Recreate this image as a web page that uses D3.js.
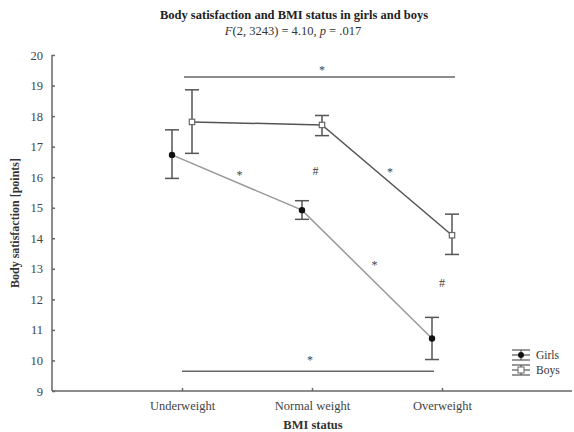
<!DOCTYPE html>
<html>
<head>
<meta charset="utf-8">
<script src="https://cdnjs.cloudflare.com/ajax/libs/d3/7.8.5/d3.min.js"></script>
<style>
  body { margin: 0; background: #fff; }
  text { font-family: "Liberation Serif", "DejaVu Serif", serif; }
</style>
</head>
<body>
<div id="chart"></div>
<script>
// chart data
const categories = ["Underweight", "Normal weight", "Overweight"];
const yTicks = [9, 10, 11, 12, 13, 14, 15, 16, 17, 18, 19, 20];
const girlsMean = [16.73, 14.92, 10.72];
const girlsUpper = [17.55, 15.23, 11.41];
const girlsLower = [15.96, 14.62, 10.03];
const boysMean = [17.81, 17.71, 14.1];
const boysUpper = [18.86, 18.02, 14.79];
const boysLower = [16.78, 17.36, 13.47];
// significance marks: [between category a, category b, value, symbol]
const marks = [
  ["Underweight", "Normal weight", 16.17, "*"],
  ["Normal weight", "Normal weight", 16.2, "#"],
  ["Normal weight", "Overweight", 16.27, "*"],
  ["Normal weight", "Overweight", 13.23, "*"],
  ["Overweight", "Overweight", 12.52, "#"]
];
const markShift = [-7.5, 3.5, 13, -2.5, 0];

const w = 574, h = 432;
const mLeft = 52, mRight = 572, mTop = 55, mBottom = 391;

const svg = d3.select("#chart").append("svg")
  .attr("width", w).attr("height", h);

const x = d3.scalePoint().domain(categories).range([mLeft, mRight]).padding(1);
const y = d3.scaleLinear().domain([9, 20]).range([mBottom, mTop]);
const dodge = 10;

// title
svg.append("text").attr("x", 294).attr("y", 19).attr("text-anchor", "middle")
  .style("font-size", "12.5px").style("font-weight", "bold").attr("fill", "#222")
  .text("Body satisfaction and BMI status in girls and boys");
const sub = svg.append("text").attr("x", 293).attr("y", 35).attr("text-anchor", "middle")
  .style("font-size", "12.5px").attr("fill", "#333");
sub.append("tspan").style("font-style", "italic").text("F");
sub.append("tspan").text("(2, 3243) = 4.10, ");
sub.append("tspan").style("font-style", "italic").text("p");
sub.append("tspan").text(" = .017");

// axes
const yAxis = d3.axisLeft(y).tickValues(yTicks).tickSize(-3).tickPadding(9);
const gy = svg.append("g").attr("transform", `translate(${mLeft},0)`).call(yAxis);
const xAxis = d3.axisBottom(x).tickSize(-3).tickPadding(10);
const gx = svg.append("g").attr("transform", `translate(0,${mBottom})`).call(xAxis);
gx.select(".domain").attr("d", `M${mLeft},0H${mRight}`);
gy.select(".domain").attr("d", `M0,${mBottom}V${mTop}`);
[gx, gy].forEach(g => {
  g.selectAll(".domain, line").attr("stroke", "#666").attr("stroke-width", 1.5);
  g.selectAll("text").attr("fill", "#444").style("font-size", "12.5px")
    .style("font-family", "'Liberation Serif', serif");
});

svg.append("text").attr("transform", `translate(19,${(mTop + mBottom) / 2}) rotate(-90)`)
  .attr("text-anchor", "middle").style("font-size", "12px").style("font-weight", "bold")
  .attr("fill", "#333").text("Body satisfaction [points]");
svg.append("text").attr("x", 313).attr("y", 429).attr("text-anchor", "middle")
  .style("font-size", "12.5px").style("font-weight", "bold").attr("fill", "#333")
  .text("BMI status");

// significance brackets
svg.append("line").attr("x1", x("Underweight") + 2).attr("x2", x("Overweight") + dodge + 3)
  .attr("y1", y(19.28)).attr("y2", y(19.28)).attr("stroke", "#666").attr("stroke-width", 1.5);
svg.append("text").attr("x", (x("Underweight") + x("Overweight")) / 2 + 10).attr("y", y(19.28) - 3)
  .attr("text-anchor", "middle").style("font-size", "12px").attr("fill", "#444").text("*");
svg.append("line").attr("x1", x("Underweight")).attr("x2", x("Overweight") - 8)
  .attr("y1", y(9.65)).attr("y2", y(9.65)).attr("stroke", "#666").attr("stroke-width", 1.5);
svg.append("text").attr("x", (x("Underweight") + x("Overweight")) / 2 - 2).attr("y", y(9.65) - 7)
  .attr("text-anchor", "middle").style("font-size", "12px").attr("fill", "#444").text("*");

svg.selectAll("text.mark").data(marks).enter().append("text").attr("class", "mark")
  .attr("x", (d, i) => (x(d[0]) + x(d[1])) / 2 + markShift[i])
  .attr("y", d => y(d[2]) + (d[3] === "*" ? 7 : 4))
  .attr("text-anchor", "middle").style("font-size", "12px").attr("fill", "#444")
  .text(d => d[3]);

// series
const series = [
  { name: "Girls", mean: girlsMean, up: girlsUpper, lo: girlsLower, off: -dodge, line: "#999", fill: "#111", shape: "circle" },
  { name: "Boys", mean: boysMean, up: boysUpper, lo: boysLower, off: dodge, line: "#555", fill: "#fff", shape: "square" }
];

series.forEach(s => {
  const pts = categories.map((c, i) => ({ c: c, m: s.mean[i], u: s.up[i], l: s.lo[i] }));
  svg.append("path").datum(pts)
    .attr("d", d3.line().x(d => x(d.c) + s.off).y(d => y(d.m)))
    .attr("fill", "none").attr("stroke", s.line).attr("stroke-width", 1.5);
  const g = svg.append("g").selectAll("g").data(pts).enter().append("g")
    .attr("transform", d => `translate(${x(d.c) + s.off},0)`);
  g.append("line").attr("y1", d => y(d.u)).attr("y2", d => y(d.l))
    .attr("stroke", "#555").attr("stroke-width", 1.5);
  g.append("line").attr("x1", -7).attr("x2", 7).attr("y1", d => y(d.u)).attr("y2", d => y(d.u))
    .attr("stroke", "#555").attr("stroke-width", 1.5);
  g.append("line").attr("x1", -7).attr("x2", 7).attr("y1", d => y(d.l)).attr("y2", d => y(d.l))
    .attr("stroke", "#555").attr("stroke-width", 1.5);
  if (s.shape === "circle") {
    g.append("circle").attr("cy", d => y(d.m)).attr("r", 3.2).attr("fill", s.fill);
  } else {
    g.append("rect").attr("x", -2.7).attr("y", d => y(d.m) - 2.7).attr("width", 5.4).attr("height", 5.4)
      .attr("fill", s.fill).attr("stroke", "#666").attr("stroke-width", 1.2);
  }
});

// legend
const lg = svg.append("g").attr("transform", "translate(521,355)");
series.forEach((s, i) => {
  const gi = lg.append("g").attr("transform", `translate(0,${i * 15})`);
  [-5, 0, 5].forEach(dy => gi.append("line").attr("x1", -9).attr("x2", 9)
    .attr("y1", dy).attr("y2", dy).attr("stroke", "#555").attr("stroke-width", 1.2));
  gi.append("line").attr("y1", -5).attr("y2", 5).attr("stroke", "#555").attr("stroke-width", 1.2);
  if (s.shape === "circle") gi.append("circle").attr("r", 3).attr("fill", s.fill);
  else gi.append("rect").attr("x", -3).attr("y", -3).attr("width", 6).attr("height", 6)
    .attr("fill", s.fill).attr("stroke", "#666");
  gi.append("text").attr("x", 15).attr("y", 4).style("font-size", "11.5px").attr("fill", "#333").text(s.name);
});
</script>
</body>
</html>
